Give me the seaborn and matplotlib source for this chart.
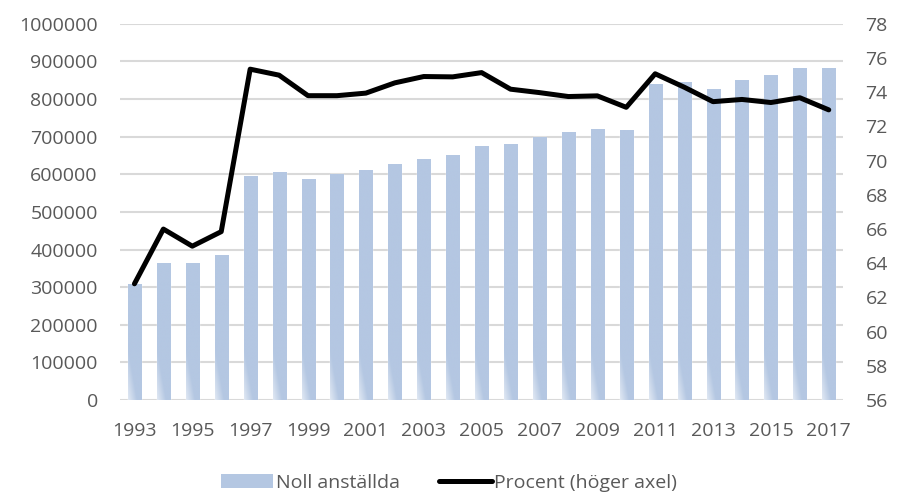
import numpy as np
import pandas as pd

import matplotlib
matplotlib.use("Agg")

import matplotlib.pyplot as plt
import seaborn as sns
from matplotlib.colors import LinearSegmentedColormap
from matplotlib.patches import Patch
from matplotlib.lines import Line2D

years = [str(y) for y in range(1993, 2018)]
noll_anstallda = [
    309000, 364000, 364000, 386000, 596000, 606000, 588000, 601000, 612000,
    628000, 641000, 652000, 676000, 681000, 700000, 713000, 721000, 718000,
    840000, 846000, 827000, 851000, 864000, 883000, 883000,
]
procent = [
    62.8, 66.0, 65.0, 65.85, 75.35, 75.0, 73.8, 73.8, 73.95,
    74.55, 74.92, 74.9, 75.15, 74.18, 73.98, 73.75, 73.79, 73.12,
    75.08, 74.3, 73.45, 73.58, 73.4, 73.68, 72.97,
]
left_ticks = list(range(0, 1000001, 100000))
right_ticks = list(range(56, 79, 2))

BAR_COLOR = "#B4C7E2"
TEXT_COLOR = "#595959"
GRID_COLOR = "#D9D9D9"
FS = 14

sns.set_theme(style="white")
plt.rcParams["font.family"] = ["Open Sans", "DejaVu Sans"]

df = pd.DataFrame({"year": years, "noll": noll_anstallda, "pct": procent})

fig = plt.figure(figsize=(8.98, 4.97), dpi=100)
ax = fig.add_axes([0.1336, 0.195, 0.8054, 0.757])

sns.barplot(data=df, x="year", y="noll", color=BAR_COLOR, width=0.45,
            saturation=1, ax=ax, zorder=2)

# gradient fill: pale at the bottom-left, solid towards the top-right
cmap = LinearSegmentedColormap.from_list("bar", ["#FFFFFF", BAR_COLOR])
gx, gy = np.meshgrid(np.linspace(0, 1, 40), np.linspace(0, 1, 200))
for p in ax.patches:
    x0, y0 = p.get_x(), p.get_y()
    w, h = p.get_width(), p.get_height()
    frac = 250000 / max(h, 1)
    g = np.clip(0.4 + 0.9 * gx + gy / frac * 1.1, 0, 1)
    p.set_facecolor("none")
    im = ax.imshow(g, cmap=cmap, vmin=0, vmax=1, origin="lower",
                   extent=[x0, x0 + w, y0, y0 + h], aspect="auto",
                   interpolation="bilinear", zorder=2)
    im.set_clip_path(p)

ax.set_xlim(-0.5, len(years) - 0.5)
ax.set_ylim(0, 1000000)
ax.set_yticks(left_ticks)
ax.set_yticklabels([str(v) for v in left_ticks])
ax.set_xticks(range(0, len(years), 2))
ax.set_xticklabels(years[::2])
ax.set_xlabel("")
ax.set_ylabel("")
ax.yaxis.grid(True, color=GRID_COLOR, linewidth=1.5, zorder=0)
ax.set_axisbelow(True)
ax.tick_params(axis="y", colors=TEXT_COLOR, labelsize=FS, length=0, pad=16)
ax.tick_params(axis="x", colors=TEXT_COLOR, labelsize=FS, length=0, pad=16)
for s in ax.spines.values():
    s.set_visible(False)

ax2 = ax.twinx()
sns.lineplot(x=np.arange(len(years)), y=df["pct"], color="black",
             linewidth=3.6, ax=ax2, zorder=3)
ax2.set_ylim(56, 78)
ax2.set_yticks(right_ticks)
ax2.set_ylabel("")
ax2.tick_params(axis="y", colors=TEXT_COLOR, labelsize=FS, length=0, pad=16)
for s in ax2.spines.values():
    s.set_visible(False)

handles = [
    Patch(facecolor=BAR_COLOR, edgecolor="none"),
    Line2D([0], [0], color="black", linewidth=3.6),
]
leg = fig.legend(handles, ["Noll anställda", "Procent (höger axel)"],
                 loc="center", bbox_to_anchor=(0.5, 0.028), ncol=2,
                 frameon=False, fontsize=FS, handlelength=2.7,
                 handletextpad=0.15, columnspacing=2.0, borderpad=0.1)
for t in leg.get_texts():
    t.set_color(TEXT_COLOR)

fig.savefig("out.png", dpi=100)
